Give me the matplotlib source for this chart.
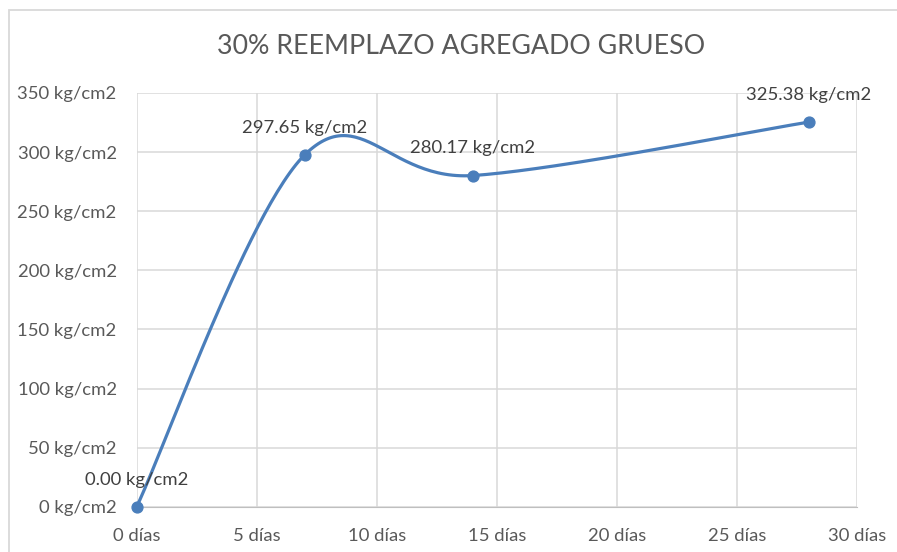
import numpy as np
import matplotlib
matplotlib.use("Agg")
import matplotlib.pyplot as plt
from matplotlib.patches import Rectangle
from matplotlib.ticker import FuncFormatter, MultipleLocator

title = "30% REEMPLAZO AGREGADO GRUESO"
days = [0, 7, 14, 28]
strength = [0.00, 297.65, 280.17, 325.38]

plt.rcParams['font.family'] = ['Lato', 'DejaVu Sans']
txt = '#595959'
line_c = '#4A7EBB'
grid_c = '#D9D9D9'

W, H = 897, 552
fig = plt.figure(figsize=(W / 100, H / 100), dpi=100)
fig.patch.set_facecolor('white')
fig.patches.append(Rectangle((9 / W, -0.1), 1.2, 1 - 10 / H + 0.1, transform=fig.transFigure,
                             fill=False, edgecolor=grid_c, lw=1.3))

ax = fig.add_axes([136.7 / W, 1 - 506.7 / H, (856.7 - 136.7) / W, (506.7 - 93) / H])

# Excel-style smoothed line (Catmull-Rom Bezier through data points)
x = np.array(days, float)
y = np.array(strength, float)
n = len(x)
xs, ys = [], []
t = np.linspace(0, 1, 60)
for i in range(n - 1):
    p0 = np.array([x[max(i - 1, 0)], y[max(i - 1, 0)]])
    p1 = np.array([x[i], y[i]])
    p2 = np.array([x[i + 1], y[i + 1]])
    p3 = np.array([x[min(i + 2, n - 1)], y[min(i + 2, n - 1)]])
    c1 = p1 + (p2 - p0) / 6
    c2 = p2 - (p3 - p1) / 6
    b = ((1 - t) ** 3)[:, None] * p1 + (3 * (1 - t) ** 2 * t)[:, None] * c1 + \
        (3 * (1 - t) * t ** 2)[:, None] * c2 + (t ** 3)[:, None] * p2
    xs.extend(b[:, 0]); ys.extend(b[:, 1])
ax.plot(xs, ys, color=line_c, lw=2.3, solid_capstyle='round', zorder=3, clip_on=False)
ax.plot(x, y, 'o', color=line_c, ms=7.8, zorder=4, clip_on=False)

for xi, yi in zip(days, strength):
    ax.annotate(f"{yi:.2f} kg/cm2", (xi, yi), xytext=(0, 19.5), textcoords='offset points',
                ha='center', va='center', fontsize=13.3, color='#404040', zorder=5)

ax.set_xlim(0, 30)
ax.set_ylim(0, 350)
ax.xaxis.set_major_locator(MultipleLocator(5))
ax.yaxis.set_major_locator(MultipleLocator(50))
ax.xaxis.set_major_formatter(FuncFormatter(lambda v, p: f"{v:.0f} días"))
ax.yaxis.set_major_formatter(FuncFormatter(lambda v, p: f"{v:.0f} kg/cm2"))
ax.grid(True, color=grid_c, lw=1.1)
ax.set_axisbelow(True)
for s in ax.spines.values():
    s.set_visible(False)
ax.spines['bottom'].set_visible(True)
ax.spines['bottom'].set_color('#BFBFBF')
ax.tick_params(length=0, colors=txt, labelsize=13.3)
ax.tick_params(axis='x', pad=15.5)
ax.tick_params(axis='y', pad=14.4)

fig.text(461 / W, 1 - 47 / H, title, ha='center', va='center', fontsize=19.3, color=txt)

fig.savefig('out.png', dpi=100, facecolor='white')
